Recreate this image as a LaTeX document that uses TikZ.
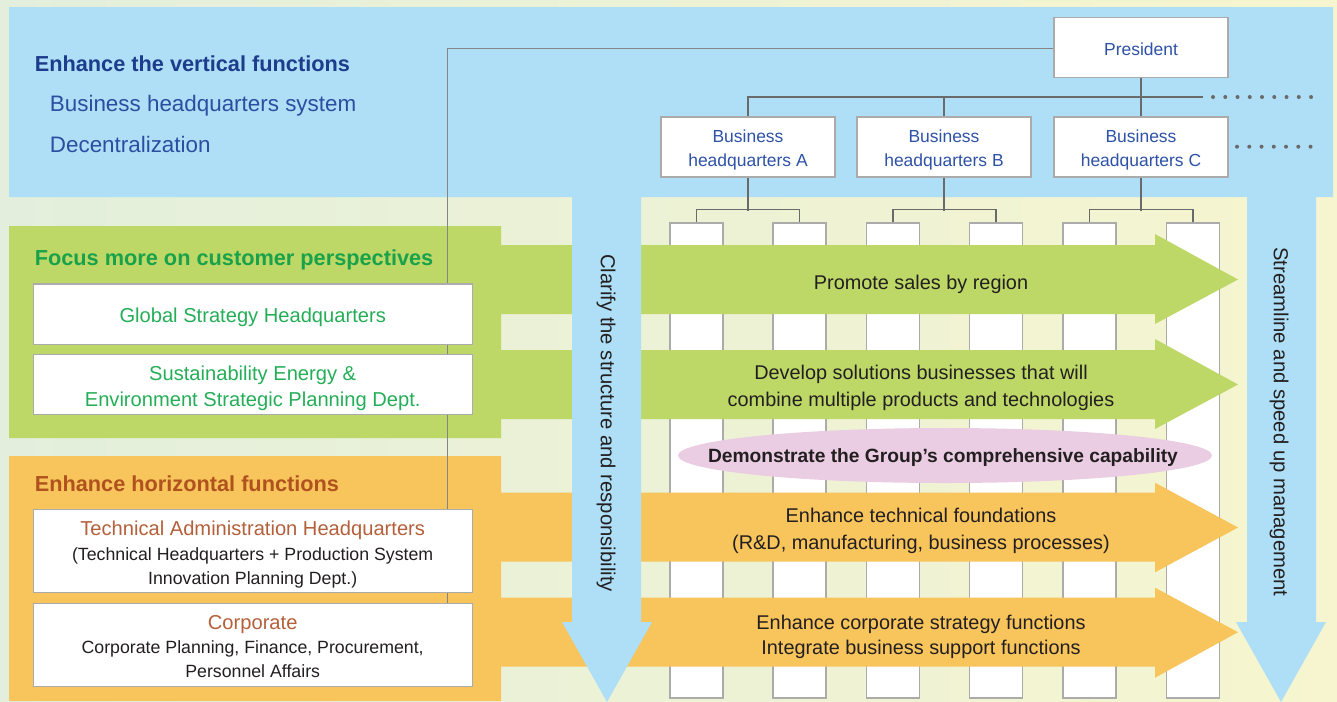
\documentclass[tikz,border=0pt]{standalone}
\usepackage{fontspec}
\setmainfont{Liberation Sans}
\usetikzlibrary{calc,shapes.geometric}
\definecolor{bgL}{HTML}{E3EFDC}
\definecolor{bgR}{HTML}{F6F5CF}
\definecolor{bfill}{HTML}{AEDFF6}
\definecolor{gfill}{HTML}{BED867}
\definecolor{ofill}{HTML}{F8C45C}
\definecolor{pinkfill}{HTML}{EACDE2}
\definecolor{boxgray}{HTML}{ABABAB}
\definecolor{treegray}{HTML}{6A6A6A}
\definecolor{linkgray}{HTML}{858585}
\definecolor{txtblack}{HTML}{231F20}
\definecolor{hblue}{HTML}{1E3C8C}
\definecolor{sblue}{HTML}{2B4EA0}
\definecolor{orgblue}{HTML}{2E52A6}
\definecolor{hgreen}{HTML}{19A24A}
\definecolor{bgreen}{HTML}{25AE57}
\definecolor{hbrown}{HTML}{B0521E}
\definecolor{bbrown}{HTML}{B4603A}
\begin{document}
\begin{tikzpicture}[x=0.75pt,y=-0.75pt]
\tikzset{
  orgbox/.style={draw=boxgray, fill=white, line width=1pt, minimum width=130.3pt, minimum height=45.2pt, inner sep=0pt},
  orgtext/.style={inner sep=0pt, align=center, font=\fontsize{13.1}{18}\selectfont, text=orgblue},
  leftbox/.style={draw=boxgray, fill=white, line width=1pt, minimum width=329.25pt, inner sep=0pt},
  colbox/.style={draw=boxgray, fill=white, line width=0.8pt, minimum width=39.75pt, minimum height=356.25pt, inner sep=0pt},
  treeline/.style={draw=treegray, line width=1.3pt},
  linkline/.style={draw=linkgray, line width=0.8pt},
  dots/.style={draw=treegray, line width=3pt, line cap=round, dash pattern=on 0pt off 9.19pt},
  lbl/.style={anchor=base, inner sep=0pt, text=txtblack},
  headl/.style={anchor=base west, inner sep=0pt, font=\fontsize{16.3}{19}\selectfont\bfseries},
  subl/.style={anchor=base west, inner sep=0pt, font=\fontsize{16.8}{20}\selectfont, text=sblue},
  rtext/.style={lbl, font=\fontsize{14.9}{18}\selectfont},
  btext/.style={lbl, font=\fontsize{15.1}{18}\selectfont},
  stext/.style={lbl, font=\fontsize{13.3}{18}\selectfont},
  vtext/.style={inner sep=0pt, rotate=-90, text=txtblack, font=\fontsize{15.2}{18}\selectfont},
}
\useasboundingbox (0,0) rectangle (1337,701);
% background
\fill[left color=bgL, right color=bgR] (0,0) rectangle (1337,701);

% columns
\node[colbox] (c1) at (696.5,460.5) {};
\node[colbox] (c2) at (799.5,460.5) {};
\node[colbox] (c3) at (893,460.5) {};
\node[colbox] (c4) at (996,460.5) {};
\node[colbox] (c5) at (1089.5,460.5) {};
\node[colbox] (c6) at (1193,460.5) {};
\draw[treeline] (c1.north) -- ++(0,-13) -| (c2.north);
\draw[treeline] (c3.north) -- ++(0,-13) -| (c4.north);
\draw[treeline] (c5.north) -- ++(0,-13) -| (c6.north);

% green band with arrows
\fill[gfill] (9,226) -- (501,226) -- (501,245) -- (1155,245) -- (1155,234) -- (1238,279.5) -- (1155,324) -- (1155,314) -- (501,314) -- (501,350) -- (1155,350) -- (1155,339) -- (1238,384.5) -- (1155,429) -- (1155,419) -- (501,419) -- (501,438) -- (9,438) -- cycle;
% orange band with arrows
\fill[ofill] (9,456) -- (501,456) -- (501,492.7) -- (1155,492.7) -- (1155,482.7) -- (1238,527.5) -- (1155,572.3) -- (1155,561.7) -- (501,561.7) -- (501,597.7) -- (1155,597.7) -- (1155,587.7) -- (1238,632.2) -- (1155,677.7) -- (1155,666.7) -- (501,666.7) -- (501,701) -- (9,701) -- cycle;
% blue band with vertical arrows
\fill[bfill] (9,7) -- (1333,7) -- (1333,197) -- (1316,197) -- (1316,622) -- (1326,622) -- (1281,702) -- (1236,622) -- (1247,622) -- (1247,197) -- (641,197) -- (641,622) -- (652,622) -- (607,702) -- (562,622) -- (572,622) -- (572,197) -- (9,197) -- cycle;

% ellipse
\node[ellipse, fill=pinkfill, minimum width=400.5pt, minimum height=41.25pt, inner sep=0pt] (ell) at (945,455.5) {};

% org chart
\node[orgbox] (pres) at (1141,47.5) {};
\node[orgbox] (bA) at (748,147) {};
\node[orgbox] (bB) at (944,147) {};
\node[orgbox] (bC) at (1141,147) {};
\node[orgtext] (prest) at ([yshift=-1.5pt]pres.center) {President};
\node[orgtext] (bAt) at ([yshift=-2.25pt]bA.center) {Business\\headquarters A};
\node[orgtext] (bBt) at ([yshift=-2.25pt]bB.center) {Business\\headquarters B};
\node[orgtext] (bCt) at ([yshift=-2.25pt]bC.center) {Business\\headquarters C};
\coordinate (tend) at (1202.7,97);
\draw[treeline] (bA.north) |- (tend);
\draw[treeline] (bB.north) -- (bB.north |- tend);
\draw[treeline] (pres.south) -- (bC.north);
\draw[treeline] (bA.south) -- ++(0,33);
\draw[treeline] (bB.south) -- ++(0,33);
\draw[treeline] (bC.south) -- ++(0,33);
\coordinate (d1a) at (1213,97);
\coordinate (d1b) at (1312,97);
\coordinate (d2a) at (1237,146.7);
\coordinate (d2b) at (1312,146.7);
\draw[dots] (d1a) -- (d1b);
\draw[dots] (d2a) -- (d2b);

% link line from President
\coordinate (lc) at (447.4,48.5);
\coordinate (lend) at (447.4,603.3);
\draw[linkline] (pres.west |- lc) -- (lc) -- (lend);

% left boxes
\node[leftbox, minimum height=45.2pt] (gsh) at (252.7,314.2) {};
\node[leftbox, minimum height=45.2pt] (sus) at (252.7,384.5) {};
\node[leftbox, minimum height=62.25pt] (tah) at (252.7,550.8) {};
\node[leftbox, minimum height=62.25pt] (corp) at (252.7,644.8) {};

% left texts
\node[headl, text=hblue] (hv) at (34.5,71.7) {Enhance the vertical functions};
\node[subl] (s1) at (49.7,111) {Business headquarters system};
\node[subl] (s2) at (49.7,152.3) {Decentralization};
\node[headl, text=hgreen] (hf) at (34.5,265) {Focus more on customer perspectives};
\node[headl, text=hbrown] (hh) at (34.5,491) {Enhance horizontal functions};

\node[btext, text=bgreen] (t1) at (252.7,322) {Global Strategy Headquarters};
\node[btext, text=bgreen] (t2) at (252.7,380) {Sustainability Energy \&};
\node[btext, text=bgreen] (t3) at (252.7,406.7) {Environment Strategic Planning Dept.};
\node[btext, text=bbrown] (t4) at (252.7,535.7) {Technical Administration Headquarters};
\node[stext] (t5) at (252.7,560) {(Technical Headquarters + Production System};
\node[stext] (t6) at (252.7,584) {Innovation Planning Dept.)};
\node[btext, text=bbrown] (t7) at (252.7,629.3) {Corporate};
\node[stext] (t8) at (252.7,653.3) {Corporate Planning, Finance, Procurement,};
\node[stext] (t9) at (252.7,677.3) {Personnel Affairs};

% right texts
\node[rtext] (r1) at (921,289) {Promote sales by region};
\node[rtext] (r2) at (921,379.3) {Develop solutions businesses that will};
\node[rtext] (r3) at (921,406.7) {combine multiple products and technologies};
\node[lbl, font=\fontsize{14.4}{18}\selectfont\bfseries] (et) at (943,462.5) {Demonstrate the Group’s comprehensive capability};
\node[rtext] (r4) at (921,522.7) {Enhance technical foundations};
\node[rtext] (r5) at (921,549.3) {(R\&D, manufacturing, business processes)};
\node[rtext] (r6) at (921,629) {Enhance corporate strategy functions};
\node[rtext] (r7) at (921,654) {Integrate business support functions};

% vertical texts
\node[vtext] (v1) at (606,423) {Clarify the structure and responsibility};
\node[vtext] (v2) at (1279,422) {Streamline and speed up management};
\end{tikzpicture}
\end{document}
